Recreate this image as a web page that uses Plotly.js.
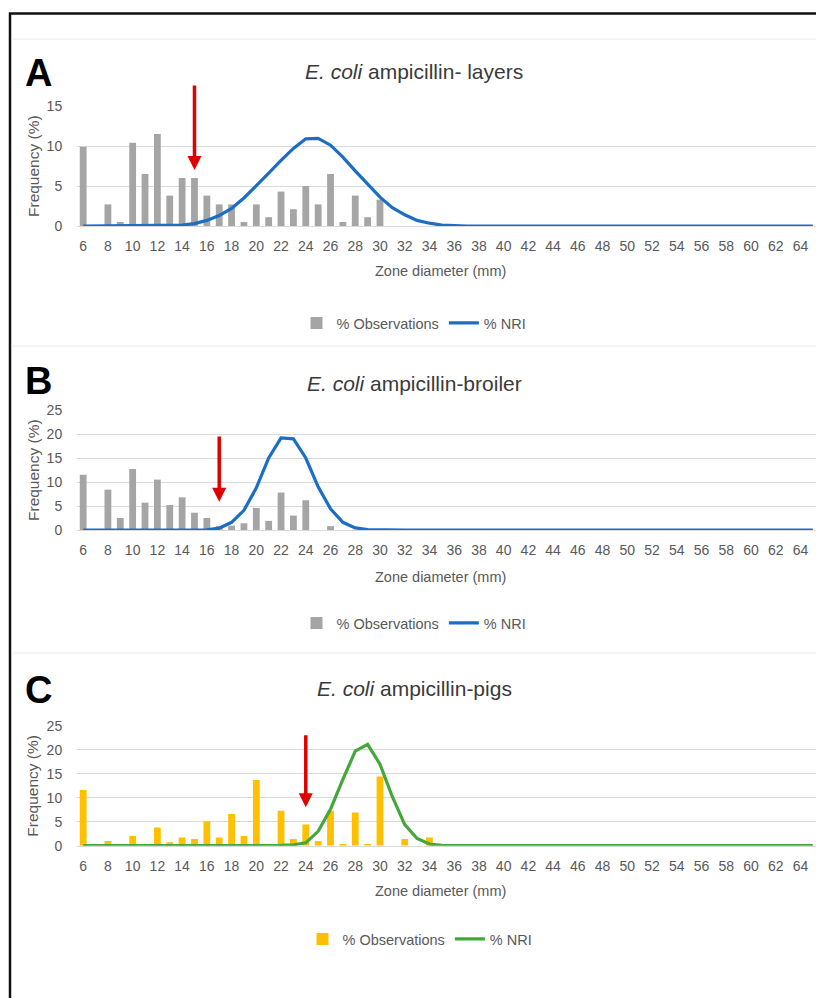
<!DOCTYPE html>
<html><head><meta charset="utf-8">
<script src="https://cdn.plot.ly/plotly-3.0.1.min.js"></script>
<style>
html,body{margin:0;padding:0;overflow:hidden;background:#fff;width:816px;height:998px;}
#chart{position:absolute;left:0;top:0;width:840px;height:998px;}
</style></head><body>
<div id="chart"></div>
<script>
// ---- data ----
const zones = [6,7,8,9,10,11,12,13,14,15,16,17,18,19,20,21,22,23,24,25,26,27,28,29,30,31,32,33,34,35,
  36,37,38,39,40,41,42,43,44,45,46,47,48,49,50,51,52,53,54,55,56,57,58,59,60,61,62,63,64,65];
const tickVals = [6,8,10,12,14,16,18,20,22,24,26,28,30,32,34,36,38,40,42,44,46,48,50,52,54,56,58,60,62,64];
const tickText = ['6','8','10','12','14','16','18','20','22','24','26','28','30','32','34','36','38','40','42','44','46','48','50','52','54','56','58','60','62','64'];

const obsLayers = [9.9,0,2.7,0.5,10.4,6.5,11.5,3.8,6.0,6.0,3.8,2.7,2.7,0.5,2.7,1.1,4.3,2.1,5.0,2.7,
  6.5,0.5,3.8,1.1,3.3,0,0,0,0,0,0,0,0,0,0,0,0,0,0,0,0,0,0,0,0,0,0,0,0,0,0,0,0,0,0,0,0,0,0,0];
const nriLayers = [0,0,0,0,0,0,0,0,0.1,0.3,0.7,1.3,2.2,3.5,5.0,6.6,8.2,9.7,10.9,10.95,
  10.1,8.6,6.9,5.2,3.6,2.3,1.4,0.7,0.35,0.12,0.04,0,0,0,0,0,0,0,0,0,0,0,0,0,0,0,0,0,0,0,0,0,0,0,0,0,0,0,0,0];

const obsBroiler = [11.5,0,8.4,2.5,12.7,5.7,10.5,5.2,6.8,3.6,2.5,0.8,0.9,1.4,4.6,1.9,7.8,3.0,6.2,0,
  0.8,0,0,0,0,0,0,0,0,0,0,0,0,0,0,0,0,0,0,0,0,0,0,0,0,0,0,0,0,0,0,0,0,0,0,0,0,0,0,0];
const nriBroiler = [0,0,0,0,0,0,0,0,0,0,0.05,0.4,1.6,4.1,8.8,15.0,19.2,19.0,15.0,9.0,
  4.4,1.6,0.45,0.1,0.02,0,0,0,0,0,0,0,0,0,0,0,0,0,0,0,0,0,0,0,0,0,0,0,0,0,0,0,0,0,0,0,0,0,0,0];

const obsPigs = [11.6,0,1.0,0,2.0,0,3.8,0.7,1.7,1.4,5.1,1.7,6.6,2.0,13.7,0,7.3,1.4,4.4,1.0,
  7.3,0.35,6.9,0.35,14.4,0,1.4,0,1.7,0,0,0,0,0,0,0,0,0,0,0,0,0,0,0,0,0,0,0,0,0,0,0,0,0,0,0,0,0,0,0];
const nriPigs = [0,0,0,0,0,0,0,0,0,0,0,0,0,0,0,0,0.05,0.2,0.6,3.0,
  7.6,13.8,19.7,21.1,17.0,10.2,4.4,1.5,0.35,0.05,0,0,0,0,0,0,0,0,0,0,0,0,0,0,0,0,0,0,0,0,0,0,0,0,0,0,0,0,0,0];

const panelLetters = ['A','B','C'];
const panelTitles = ['<i>E. coli</i> ampicillin- layers','<i>E. coli</i> ampicillin-broiler','<i>E. coli</i> ampicillin-pigs'];
const seriesNames = ['% Observations','% NRI'];
const yMax = [15,25,25];
const arrowZone = [15,17,24];
const arrowTip = [7.0,5.9,8.0];
const arrowTop = [17.75,19.8,23.3];

// ---- layout helpers ----
const W = 840, H = 998;
const px = v => v / W;
const py = v => 1 - v / H;
const FONT = 'Liberation Sans, Arial, sans-serif';
const TXT = '#595959';

const panels = [
  {obs: obsLayers, nri: nriLayers, barColor: '#a5a5a5', lineColor: '#1a6ec6', y0: 226, y1: 106,
   titleY: 72, letterY: 73, xtY: 271, legY: 323, legX: 414},
  {obs: obsBroiler, nri: nriBroiler, barColor: '#a5a5a5', lineColor: '#1a6ec6', y0: 530, y1: 410,
   titleY: 384, letterY: 381, xtY: 577, legY: 623, legX: 414},
  {obs: obsPigs, nri: nriPigs, barColor: '#ffc000', lineColor: '#43a73a', y0: 845.7, y1: 725.7,
   titleY: 688, letterY: 690, xtY: 891, legY: 939, legX: 420}
];

const traces = [];
const layout = {
  width: W, height: H,
  margin: {l: 0, r: 0, t: 0, b: 0},
  paper_bgcolor: '#fff', plot_bgcolor: 'rgba(0,0,0,0)',
  font: {family: FONT, color: TXT},
  annotations: [], shapes: []
};

panels.forEach((p, i) => {
  const sfx = i === 0 ? '' : String(i + 1);
  const xa = 'x' + sfx, ya = 'y' + sfx, lg = 'legend' + sfx;
  traces.push({
    type: 'bar', x: zones, y: p.obs, xaxis: xa, yaxis: ya, name: seriesNames[0],
    marker: {color: p.barColor}, width: 0.55, legend: lg, hoverinfo: 'x+y'
  });
  traces.push({
    type: 'scatter', mode: 'lines', x: zones, y: p.nri, xaxis: xa, yaxis: ya, name: seriesNames[1],
    line: {color: p.lineColor, width: 3.2}, legend: lg, cliponaxis: false
  });
  layout['xaxis' + sfx] = {
    domain: [px(77), px(819)], anchor: ya, range: [5.5, 65.5],
    tickmode: 'array', tickvals: tickVals, ticktext: tickText,
    showgrid: false, zeroline: false, showline: true, linecolor: '#d9d9d9', linewidth: 1,
    ticks: 'outside', ticklen: 7, tickcolor: 'rgba(0,0,0,0)',
    tickfont: {size: 14, color: TXT, family: FONT}
  };
  layout['yaxis' + sfx] = {
    domain: [py(p.y0), py(p.y1)], anchor: xa, range: [0, yMax[i]], dtick: 5,
    showgrid: true, gridcolor: '#d9d9d9', gridwidth: 1, zeroline: false, showline: false,
    ticks: 'outside', ticklen: 11, tickcolor: 'rgba(0,0,0,0)',
    tickfont: {size: 14, color: TXT, family: FONT}
  };
  layout[lg] = {
    x: px(p.legX), y: py(p.legY), xanchor: 'center', yanchor: 'middle', orientation: 'h',
    font: {size: 14.5, color: TXT, family: FONT}, itemwidth: 30, bgcolor: 'rgba(0,0,0,0)',
    tracegroupgap: 0
  };
  // panel title
  layout.annotations.push({xref: 'paper', yref: 'paper', x: px(414), y: py(p.titleY),
    xanchor: 'center', yanchor: 'middle', showarrow: false, text: panelTitles[i],
    font: {size: 21, color: '#3a3a3a', family: FONT}});
  // panel letter
  layout.annotations.push({xref: 'paper', yref: 'paper', x: px(38), y: py(p.letterY),
    xanchor: 'center', yanchor: 'middle', showarrow: false, text: '<b>' + panelLetters[i] + '</b>',
    font: {size: 38, color: '#000', family: 'Liberation Sans Narrow, Arial Narrow, sans-serif'}});
  // y axis title
  layout.annotations.push({xref: 'paper', yref: 'paper', x: px(33), y: py((p.y0 + p.y1) / 2),
    xanchor: 'center', yanchor: 'middle', showarrow: false, text: 'Frequency (%)', textangle: -90,
    font: {size: 15.5, color: TXT, family: FONT}});
  // x axis title
  layout.annotations.push({xref: 'paper', yref: 'paper', x: px(440), y: py(p.xtY),
    xanchor: 'center', yanchor: 'middle', showarrow: false, text: 'Zone diameter (mm)',
    font: {size: 14.5, color: TXT, family: FONT}});
  // breakpoint arrow
  layout.annotations.push({xref: xa, yref: ya, x: arrowZone[i], y: arrowTip[i],
    axref: xa, ayref: ya, ax: arrowZone[i], ay: arrowTop[i], text: '', showarrow: true,
    arrowhead: 2, arrowsize: 0.8, arrowwidth: 3.5, arrowcolor: '#e00000', standoff: 0});
});

// frame and chart-area separators
layout.shapes.push({type: 'rect', xref: 'paper', yref: 'paper', x0: px(10), x1: 1.3, y0: -0.3, y1: py(13.5),
  line: {color: '#111', width: 2.5}, fillcolor: 'rgba(0,0,0,0)'});
[39, 346, 653].forEach(y => layout.shapes.push({type: 'line', xref: 'paper', yref: 'paper',
  x0: px(11.5), x1: 1.2, y0: py(y), y1: py(y), line: {color: '#ececec', width: 1}}));

Plotly.newPlot('chart', traces, layout, {staticPlot: true, displayModeBar: false});
</script>
</body></html>
